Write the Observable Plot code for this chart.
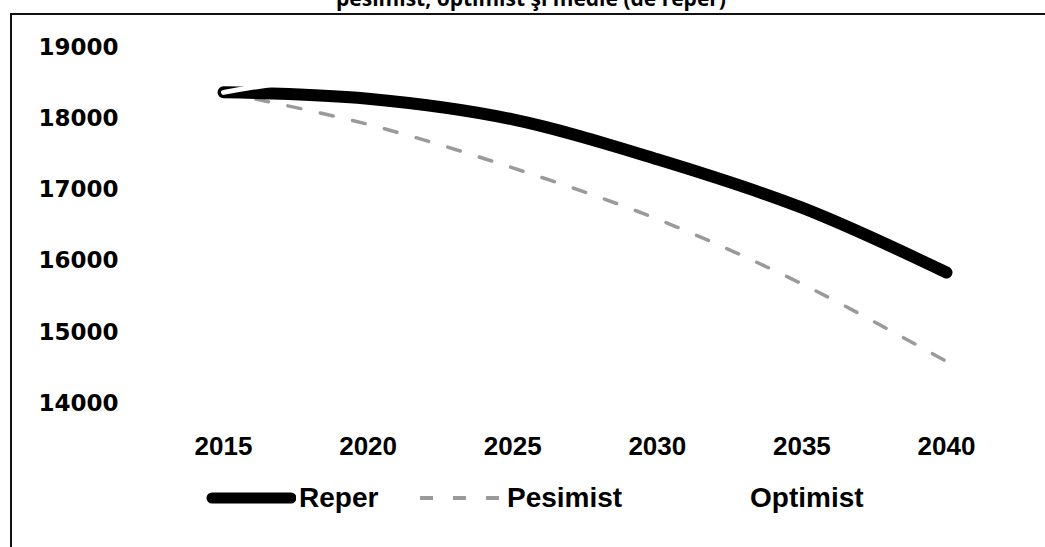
<!DOCTYPE html>
<html><head><meta charset="utf-8">
<script src="https://cdn.jsdelivr.net/npm/d3@7"></script>
<script src="https://cdn.jsdelivr.net/npm/@observablehq/plot@0.6"></script>
<style>
body{margin:0;background:#fff;width:1045px;height:547px;overflow:hidden;position:relative;font-family:"Liberation Sans",Arial,sans-serif;}
#title{position:absolute;left:0;width:1062px;text-align:center;top:-16px;font:bold 21px "Open Sans",sans-serif;white-space:nowrap;color:#000}
#frame{position:absolute;left:10px;top:13px;width:1100px;height:600px;border-left:2px solid #111;border-top:2px solid #111;}
#chart{position:absolute;left:0;top:0}
.leg{position:absolute;top:480px;height:36px;display:flex;align-items:center;font:bold 28px "Liberation Sans",Arial,sans-serif;color:#000}
.leg svg{margin-right:3px}
</style></head>
<body>
<div id="frame"></div>
<div id="title">pesimist, optimist şi medie (de reper)</div>
<div id="chart"></div>
<div id="legend"></div>
<script>
const years = [2015, 2020, 2025, 2030, 2035, 2040];
const reper = [18370, 18280, 17990, 17430, 16750, 15840];
const pesimist = [18370, 17920, 17310, 16590, 15680, 14590];
const optimist = [18370, 18650, 18600, 18450, 18200, 17850];
const yTicks = [14000, 15000, 16000, 17000, 18000, 19000];
const seriesNames = ["Reper", "Pesimist", "Optimist"];

const rows = (vals, name) => years.map((y, i) => ({year: y, value: vals[i], series: name}));
const repRows = rows(reper, "Reper");
const pesRows = rows(pesimist, "Pesimist");
const optRows = rows(optimist, "Optimist");

const chart = Plot.plot({
  width: 1045, height: 470,
  marginTop: 47, marginBottom: 67, marginLeft: 223, marginRight: 99,
  style: {color: "#000", background: "transparent", overflow: "visible"},
  x: {domain: [2015, 2040]},
  y: {domain: [14000, 19000]},
  marks: [
    Plot.axisY({ticks: yTicks, tickSize: 0, tickPadding: 105, tickFormat: d => String(d),
      fontSize: 23, fontFamily: "DejaVu Sans", fontWeight: "bold", label: null}),
    Plot.axisX({ticks: years, tickSize: 0, tickPadding: 33, tickFormat: d => String(d),
      fontSize: 26, fontFamily: "Liberation Sans", fontWeight: "bold", label: null}),
    Plot.line(pesRows, {x: "year", y: "value", stroke: "#9a9a9a", strokeWidth: 3.5,
      strokeDasharray: "13,20", curve: "catmull-rom"}),
    Plot.line(repRows, {x: "year", y: "value", stroke: "#000", strokeWidth: 12,
      strokeLinecap: "round", strokeLinejoin: "round", curve: "catmull-rom"}),
    Plot.line(optRows, {x: "year", y: "value", stroke: "#fff", strokeWidth: 5,
      strokeLinecap: "round", curve: "catmull-rom"})
  ]
});
document.getElementById("chart").appendChild(chart);

// legend
const legend = document.getElementById("legend");
const legItems = [
  {name: seriesNames[0], left: 206, stroke: "#000", width: 11, dash: null},
  {name: seriesNames[1], left: 414, stroke: "#9a9a9a", width: 4, dash: "13,20"},
  {name: seriesNames[2], left: 657, stroke: "#fff", width: 5, dash: null}
];
legItems.forEach(it => {
  const d = document.createElement("div");
  d.className = "leg";
  d.style.left = it.left + "px";
  const s = d3.create("svg").attr("width", 90).attr("height", 20);
  s.append("line").attr("x1", 6).attr("x2", 85).attr("y1", 10).attr("y2", 10)
    .attr("stroke", it.stroke).attr("stroke-width", it.width)
    .attr("stroke-linecap", it.dash ? "butt" : "round")
    .attr("stroke-dasharray", it.dash);
  d.appendChild(s.node());
  const t = document.createElement("span");
  t.textContent = it.name;
  d.appendChild(t);
  legend.appendChild(d);
});
</script>
</body></html>
